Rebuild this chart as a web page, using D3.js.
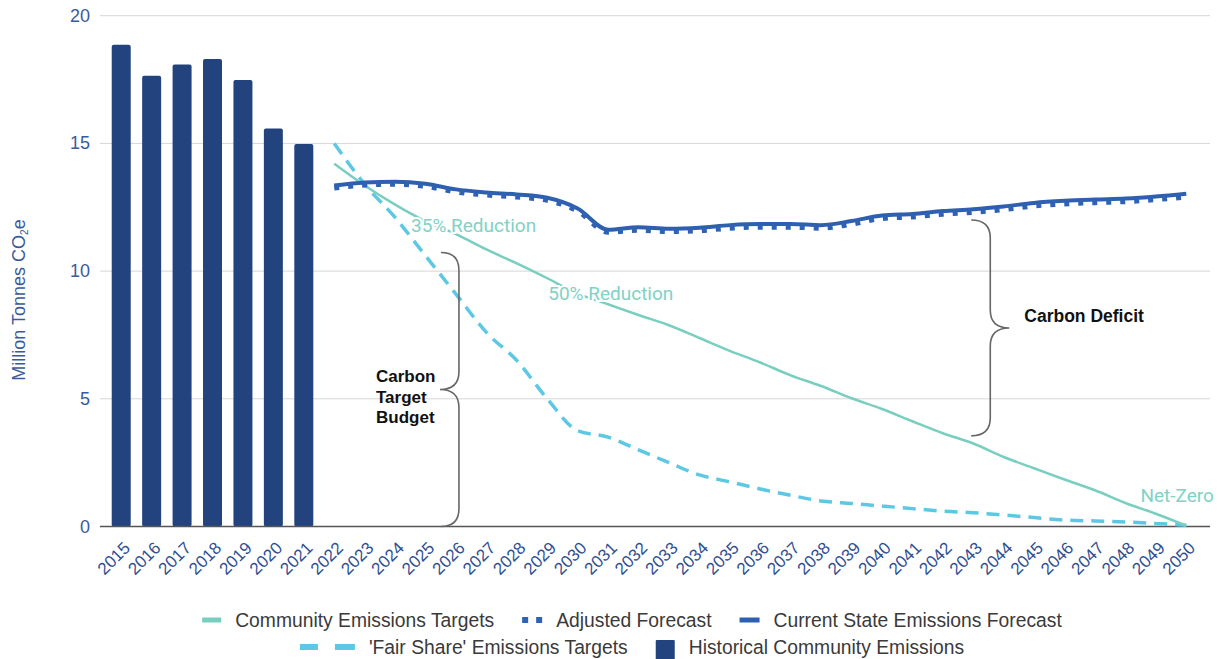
<!DOCTYPE html>
<html>
<head>
<meta charset="utf-8">
<script src="https://cdn.jsdelivr.net/npm/d3@7"></script>
<style>
  body { margin: 0; background: #fff; }
</style>
</head>
<body>
<div id="chart"></div>
<script>
const years = ['2015','2016','2017','2018','2019','2020','2021','2022','2023','2024','2025','2026',
  '2027','2028','2029','2030','2031','2032','2033','2034','2035','2036','2037','2038','2039','2040',
  '2041','2042','2043','2044','2045','2046','2047','2048','2049','2050']
const historicYears = ['2015','2016','2017','2018','2019','2020','2021']
const forecastYears = ['2022','2023','2024','2025','2026','2027','2028','2029','2030','2031','2032',
  '2033','2034','2035','2036','2037','2038','2039','2040','2041','2042','2043','2044','2045','2046',
  '2047','2048','2049','2050']

const historical = [18.86, 17.65, 18.09, 18.3, 17.48, 15.58, 14.98]
const currentState = [13.35, 13.47, 13.5, 13.42, 13.2, 13.08, 13.0, 12.87, 12.45, 11.62, 11.72, 11.66,
  11.7, 11.8, 11.84, 11.84, 11.8, 11.96, 12.18, 12.24, 12.35, 12.42, 12.53, 12.67, 12.75, 12.8, 12.84,
  12.92, 13.03]
const adjusted = [13.25, 13.37, 13.4, 13.32, 13.1, 12.98, 12.9, 12.77, 12.35, 11.52, 11.6, 11.55,
  11.58, 11.68, 11.72, 11.72, 11.68, 11.84, 12.06, 12.12, 12.23, 12.3, 12.41, 12.55, 12.63, 12.68,
  12.72, 12.8, 12.9]
const community = [14.2, 13.35, 12.6, 11.95, 11.45, 10.85, 10.3, 9.72, 9.12, 8.7, 8.28, 7.88, 7.38,
  6.88, 6.42, 5.92, 5.5, 5.02, 4.6, 4.12, 3.65, 3.25, 2.72, 2.28, 1.84, 1.42, 0.92, 0.5, 0.03]
const fairShare = [15.0, 13.4, 12.1, 10.6, 9.1, 7.6, 6.5, 5.0, 3.75, 3.5, 3.0, 2.5, 2.02, 1.75, 1.47,
  1.22, 1.0, 0.9, 0.8, 0.7, 0.6, 0.54, 0.45, 0.35, 0.25, 0.22, 0.18, 0.12, 0.05]
const yTicks = [0, 5, 10, 15, 20]

const legendRows = [
  ['Community Emissions Targets', 'Adjusted Forecast', 'Current State Emissions Forecast'],
  ["'Fair Share' Emissions Targets", 'Historical Community Emissions']
]

const colors = {
  bar: '#22437e',
  current: '#2f60b0',
  adjusted: '#2f62b3',
  community: '#78cfc0',
  fair: '#5cc8e4',
  axisText: '#2f4f92',
  brace: '#666666'
}

const width = 1227
const height = 659

const svg = d3.select('#chart')
    .append('svg')
    .attr('width', width)
    .attr('height', height)

const xScale = d3.scaleBand().domain(years).range([106, 1201.5]).paddingInner(0.376).paddingOuter(0.188)
const yScale = d3.scaleLinear().domain([0, 20]).range([526.5, 15.7])
const cx = d => xScale(d) + xScale.bandwidth() / 2

// gridlines
svg.append('g')
    .selectAll('line')
    .data(yTicks.filter(t => t > 0))
    .join('line')
    .attr('x1', 100)
    .attr('x2', 1210)
    .attr('y1', d => yScale(d))
    .attr('y2', d => yScale(d))
    .style('stroke', '#d6d6d6')
    .style('stroke-width', 1)

// y tick labels
svg.append('g')
    .selectAll('text')
    .data(yTicks)
    .join('text')
    .attr('x', 90)
    .attr('y', d => yScale(d) + 6)
    .attr('text-anchor', 'end')
    .style('font-family', 'Liberation Sans, Arial, sans-serif')
    .style('font-size', '18px')
    .style('fill', '#3b5a9b')
    .text(d => d)

// Y label
svg.append('text')
    .attr('text-anchor', 'middle')
    .attr('transform', 'translate(25,300)rotate(-90)')
    .style('font-family', 'Liberation Sans, Arial, sans-serif')
    .style('font-size', '18px')
    .style('fill', '#3b5a9b')
    .text('Million Tonnes CO')
    .append('tspan').attr('font-size', '10px').attr('dy', 3).text('2')
    .select(function() { return this.parentNode })
    .append('tspan').attr('dy', -3).text('e')

// bars
svg.append('g')
    .selectAll('rect')
    .data(historical)
    .join('rect')
    .attr('x', (d, i) => xScale(historicYears[i]))
    .attr('y', d => yScale(d))
    .attr('width', xScale.bandwidth())
    .attr('height', d => yScale(0) - yScale(d))
    .attr('rx', 2)
    .style('fill', colors.bar)

// baseline
svg.append('line')
    .attr('x1', 100).attr('x2', 1210)
    .attr('y1', yScale(0)).attr('y2', yScale(0))
    .style('stroke', '#555')
    .style('stroke-width', 1.5)

// x tick labels
svg.append('g')
    .selectAll('text')
    .data(years)
    .join('text')
    .attr('transform', d => `translate(${cx(d) + 10},549)rotate(-45)`)
    .attr('text-anchor', 'end')
    .style('font-family', 'Liberation Sans, Arial, sans-serif')
    .style('font-size', '17px')
    .style('fill', colors.axisText)
    .text(d => d)

const line = d3.line()
    .x((d, i) => cx(forecastYears[i]))
    .y(d => yScale(d))
    .curve(d3.curveMonotoneX)

svg.append('path')
    .datum(fairShare)
    .attr('d', line)
    .style('fill', 'none')
    .style('stroke', colors.fair)
    .style('stroke-width', 3.5)
    .style('stroke-dasharray', '13,8')

svg.append('path')
    .datum(community)
    .attr('d', line)
    .style('fill', 'none')
    .style('stroke', colors.community)
    .style('stroke-width', 2.5)

svg.append('path')
    .datum(currentState)
    .attr('d', line)
    .style('fill', 'none')
    .style('stroke', colors.current)
    .style('stroke-width', 4)

svg.append('path')
    .datum(adjusted)
    .attr('d', line)
    .style('fill', 'none')
    .style('stroke', colors.adjusted)
    .style('stroke-width', 5)
    .style('stroke-dasharray', '5,9')

// teal labels on the target line (white halo hides the line behind)
const tealLabel = (x, y, txt) => svg.append('text')
    .attr('x', x).attr('y', y)
    .style('font-family', 'Roboto, sans-serif')
    .style('font-size', '19px')
    .style('fill', '#80d2c4')
    .style('stroke', '#fff')
    .style('stroke-width', 4)
    .style('paint-order', 'stroke')
    .text(txt)
tealLabel(cx('2024') + 16, yScale(11.6) + 2, '35% Reduction')
tealLabel(cx('2029') + 1, yScale(8.9) + 1, '50% Reduction')
tealLabel(cx('2048') + 15, yScale(0.97), 'Net-Zero')

// braces
function brace(x, yTop, yBot, dir, arm) {
    const yMid = (yTop + yBot) / 2
    const r = 18
    return `M${x - dir * arm},${yTop} Q${x},${yTop} ${x},${yTop + r} L${x},${yMid - r} ` +
        `Q${x},${yMid} ${x + dir * 19},${yMid} Q${x},${yMid} ${x},${yMid + r} L${x},${yBot - r} ` +
        `Q${x},${yBot} ${x - dir * arm},${yBot}`
}

svg.append('path')
    .attr('d', brace(cx('2026') + 3, yScale(10.73), yScale(0), -1, -18))
    .style('fill', 'none')
    .style('stroke', colors.brace)
    .style('stroke-width', 1.6)

svg.append('path')
    .attr('d', brace(cx('2043') + 17, yScale(12.0), yScale(3.55), 1, 19))
    .style('fill', 'none')
    .style('stroke', colors.brace)
    .style('stroke-width', 1.6)

const noteFont = 'Liberation Sans, Arial, sans-serif'
svg.append('text')
    .attr('x', cx('2043') + 51)
    .attr('y', yScale(8.0))
    .style('font-family', noteFont)
    .style('font-size', '17.5px')
    .style('font-weight', 'bold')
    .style('fill', '#111')
    .text('Carbon Deficit')

svg.append('g')
    .selectAll('text')
    .data(['Carbon', 'Target', 'Budget'])
    .join('text')
    .attr('x', 376)
    .attr('y', (d, i) => 382 + i * 20.5)
    .style('font-family', noteFont)
    .style('font-size', '17px')
    .style('font-weight', 'bold')
    .style('fill', '#111')
    .text(d => d)

// legend
const swatch = {
  'Community Emissions Targets': (g) => g.append('rect').attr('x', 0).attr('y', -2.5).attr('width', 19).attr('height', 5).style('fill', colors.community),
  'Adjusted Forecast': (g) => {
      g.append('rect').attr('x', 0).attr('y', -3).attr('width', 6).attr('height', 6).style('fill', colors.adjusted)
      g.append('rect').attr('x', 14).attr('y', -3).attr('width', 6).attr('height', 6).style('fill', colors.adjusted)
  },
  'Current State Emissions Forecast': (g) => g.append('rect').attr('x', 0).attr('y', -2.5).attr('width', 20).attr('height', 5).style('fill', colors.current),
  "'Fair Share' Emissions Targets": (g) => {
      g.append('rect').attr('x', 0).attr('y', -3).attr('width', 18).attr('height', 6).style('fill', colors.fair)
      g.append('rect').attr('x', 35).attr('y', -3).attr('width', 20).attr('height', 6).style('fill', colors.fair)
  },
  'Historical Community Emissions': (g) => g.append('rect').attr('x', 0).attr('y', -7).attr('width', 19).attr('height', 25).attr('rx', 1).style('fill', colors.bar)
}
const swatchW = {
  'Community Emissions Targets': 19, 'Adjusted Forecast': 20, 'Current State Emissions Forecast': 20,
  "'Fair Share' Emissions Targets": 55, 'Historical Community Emissions': 19
}

legendRows.forEach((row, r) => {
    const rowY = 620 + r * 27
    const g = svg.append('g')
    let x = 0
    row.forEach((name, k) => {
        const item = g.append('g').attr('transform', `translate(${x},${rowY})`)
        swatch[name](item)
        const t = item.append('text')
            .attr('x', swatchW[name] + 14)
            .attr('y', 6.5)
            .style('font-family', 'Liberation Sans, Arial, sans-serif')
            .style('font-size', '19.3px')
            .style('fill', '#3a3a3a')
            .text(name)
        x += swatchW[name] + 14 + t.node().getComputedTextLength() + 28
    })
    const total = x - 28
    g.attr('transform', `translate(${632 - total / 2},0)`)
})
</script>
</body>
</html>
